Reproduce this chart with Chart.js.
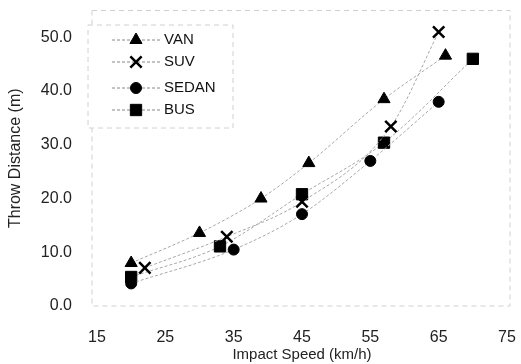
<!DOCTYPE html>
<html>
<head>
<meta charset="utf-8">
<script src="https://cdn.jsdelivr.net/npm/chart.js@4.4.1/dist/chart.umd.min.js"></script>
<style>
  html, body { margin: 0; padding: 0; background: #fff; }
  #wrap { width: 521px; height: 364px; }
</style>
</head>
<body>
<div id="wrap"><canvas id="myChart" width="521" height="364"></canvas></div>
<script>
// data
const speedVan = [20, 30, 39, 46, 57, 66];
const van = [8, 13.6, 20, 26.6, 38.5, 46.6];
const speedSuv = [22, 34, 45, 58, 65];
const suv = [7.1, 12.9, 19.4, 33.4, 51];
const speedSedan = [20, 35, 45, 55, 65];
const sedan = [4.2, 10.5, 17.1, 27, 38];
const speedBus = [20, 33, 45, 57, 70];
const bus = [5.4, 11.1, 20.8, 30.4, 46];

const xTicks = [15, 25, 35, 45, 55, 65, 75];
const yTicks = [0, 10, 20, 30, 40, 50];

const FONT = "'Liberation Sans', Arial, sans-serif";

function pts(xs, ys) {
    return xs.map((x, i) => ({ x: x, y: ys[i] }));
}

const seriesList = [
    { label: 'VAN', data: pts(speedVan, van), pointStyle: 'triangle', radius: 7, bw: 1 },
    { label: 'SUV', data: pts(speedSuv, suv), pointStyle: 'crossRot', radius: 8, bw: 2.5 },
    { label: 'SEDAN', data: pts(speedSedan, sedan), pointStyle: 'circle', radius: 5.5, bw: 1 },
    { label: 'BUS', data: pts(speedBus, bus), pointStyle: 'rect', radius: 8, bw: 1 }
];

const datasets = seriesList.map(s => ({
    label: s.label,
    data: s.data,
    borderColor: '#a8a8a8',
    borderWidth: 1,
    borderDash: [3, 2],
    tension: 0.4,
    cubicInterpolationMode: 'monotone',
    pointStyle: s.pointStyle,
    pointRadius: s.radius,
    pointBorderWidth: s.bw,
    pointBackgroundColor: '#000',
    pointBorderColor: '#000',
    fill: false
}));

// faint dashed frame around plot area
const framePlugin = {
    id: 'frame',
    beforeDatasetsDraw(chart) {
        const { ctx, chartArea: a } = chart;
        ctx.save();
        ctx.strokeStyle = '#d0d0d0';
        ctx.lineWidth = 1;
        ctx.setLineDash([5, 4]);
        ctx.strokeRect(a.left - 5, a.top, a.right - a.left + 8, a.bottom - a.top);
        ctx.restore();
    }
};

// legend inside the plot, line + marker + text
const legendPlugin = {
    id: 'boxLegend',
    afterDraw(chart) {
        const ctx = chart.ctx;
        const bx = 88, by = 25, bw = 145, bh = 103;
        ctx.save();
        ctx.fillStyle = '#fff';
        ctx.fillRect(bx, by, bw, bh);
        ctx.strokeStyle = '#d0d0d0';
        ctx.setLineDash([5, 4]);
        ctx.strokeRect(bx, by, bw, bh);
        const rows = [40, 62, 88, 110];
        seriesList.forEach((s, i) => {
            const y = rows[i];
            ctx.setLineDash([3, 2]);
            ctx.strokeStyle = '#888';
            ctx.lineWidth = 1;
            ctx.beginPath();
            ctx.moveTo(112, y);
            ctx.lineTo(160, y);
            ctx.stroke();
            ctx.setLineDash([]);
            ctx.fillStyle = '#000';
            ctx.strokeStyle = '#000';
            ctx.lineWidth = s.bw;
            Chart.helpers.drawPoint(ctx, { pointStyle: s.pointStyle, radius: s.radius, rotation: 0, borderWidth: s.bw }, 136, y);
            ctx.fillStyle = '#111';
            ctx.font = '15px ' + FONT;
            ctx.textBaseline = 'middle';
            ctx.textAlign = 'left';
            ctx.fillText(s.label, 164, y);
        });
        ctx.restore();
    }
};

const ctx = document.getElementById('myChart').getContext('2d');

new Chart(ctx, {
    type: 'line',
    data: { datasets: datasets },
    plugins: [framePlugin, legendPlugin],
    options: {
        responsive: false,
        animation: false,
        layout: { padding: { left: 0, right: 14, top: 10, bottom: 0 } },
        plugins: {
            legend: { display: false },
            tooltip: { enabled: false }
        },
        scales: {
            x: {
                type: 'linear',
                min: 15,
                max: 75,
                afterBuildTicks: axis => { axis.ticks = xTicks.map(v => ({ value: v })); },
                afterFit: axis => {
                    axis.height = 58;
                    axis.paddingLeft = 0;
                    axis.paddingRight = 0;
                },
                grid: { display: false, drawTicks: false },
                border: { display: false },
                ticks: {
                    padding: 22,
                    color: '#222',
                    font: { family: FONT, size: 16 },
                    maxRotation: 0
                },
                title: {
                    display: true,
                    text: 'Impact Speed (km/h)',
                    color: '#222',
                    font: { family: FONT, size: 15 },
                    padding: { top: 0, bottom: 0 }
                }
            },
            y: {
                type: 'linear',
                min: 0,
                max: 55,
                afterBuildTicks: axis => { axis.ticks = yTicks.map(v => ({ value: v })); },
                afterFit: axis => {
                    axis.width = 97;
                    axis.paddingTop = 0;
                    axis.paddingBottom = 0;
                },
                grid: { display: false, drawTicks: false },
                border: { display: false },
                ticks: {
                    padding: 25,
                    color: '#222',
                    font: { family: FONT, size: 16 },
                    callback: v => v.toFixed(1)
                },
                title: {
                    display: true,
                    text: 'Throw Distance (m)',
                    color: '#222',
                    font: { family: FONT, size: 16 },
                    padding: { top: 6, bottom: 0 }
                }
            }
        }
    }
});
</script>
</body>
</html>
